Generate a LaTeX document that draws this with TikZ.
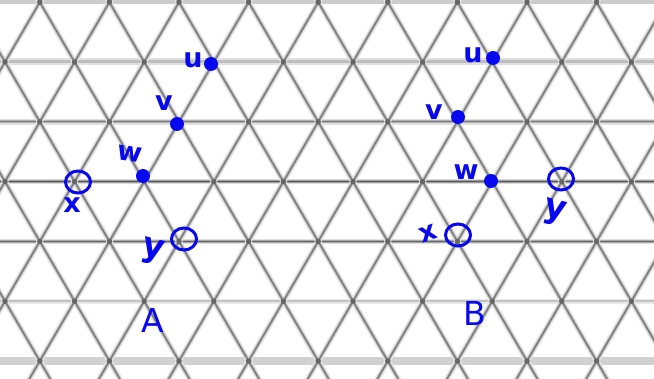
\documentclass[tikz,border=0pt]{standalone}
\usepackage{fontspec}
\setmainfont{DejaVu Sans}
\definecolor{ink}{RGB}{8,8,240}
\tikzset{
  diaghalo/.style={draw=black!9, line width=5.5pt},
  diagmid/.style={draw=black!28, line width=3pt},
  diagcore/.style={draw=black!52, line width=1.3pt},
  vdot/.style={circle, fill=black!60, inner sep=0pt, minimum size=5.5pt},
  pt/.style={circle, fill=ink, inner sep=0pt, minimum size=14pt},
  ring/.style={ellipse, draw=ink, line width=3pt, inner sep=0pt, minimum width=25pt, minimum height=22pt},
  hand/.style={text=ink, inner sep=0pt, font=\bfseries\fontsize{27}{30}\selectfont},
  handy/.style={text=ink, inner sep=0pt, font=\bfseries\fontsize{34}{36}\selectfont},
  big/.style={text=ink, inner sep=0pt, font=\fontsize{33}{36}\selectfont}
}
\usetikzlibrary{shapes.geometric}
\begin{document}
\begin{tikzpicture}[x=1pt,y=-1pt]
\useasboundingbox (0,0) rectangle (654,379);
\fill[white] (0,0) rectangle (654,379);
\begin{scope}
\clip (0,0) rectangle (654,379);
% horizontal rows
\draw[black!20, line width=4pt] (0,2.2) -- (654,2.2);
\draw[black!12, line width=7pt] (0,62) -- (654,62);
\draw[black!26, line width=3pt] (0,62) -- (654,62);
\draw[black!12, line width=5.5pt] (0,121.8) -- (654,121.8);
\draw[black!30, line width=3pt] (0,121.8) -- (654,121.8);
\draw[black!52, line width=1.3pt] (0,121.8) -- (654,121.8);
\draw[black!14, line width=5.5pt] (0,181.6) -- (654,181.6);
\draw[black!38, line width=3pt] (0,181.6) -- (654,181.6);
\draw[black!66, line width=1.4pt] (0,181.6) -- (654,181.6);
\draw[black!12, line width=5.5pt] (0,241.4) -- (654,241.4);
\draw[black!34, line width=3pt] (0,241.4) -- (654,241.4);
\draw[black!60, line width=1.3pt] (0,241.4) -- (654,241.4);
\draw[black!9, line width=5pt] (0,301.2) -- (654,301.2);
\draw[black!24, line width=2pt] (0,301.2) -- (654,301.2);
\draw[black!18, line width=8pt] (0,361) -- (654,361);
% diagonals
\foreach \k in {-6,...,16} {
  \draw[diaghalo] ({39.8+69.6*\k+34.8},-57.6) -- ({39.8+69.6*\k-278.4},480.6);
  \draw[diaghalo] ({39.8+69.6*\k-34.8},-57.6) -- ({39.8+69.6*\k+278.4},480.6);
}
\foreach \k in {-6,...,16} {
  \draw[diagmid] ({39.8+69.6*\k+34.8},-57.6) -- ({39.8+69.6*\k-278.4},480.6);
  \draw[diagmid] ({39.8+69.6*\k-34.8},-57.6) -- ({39.8+69.6*\k+278.4},480.6);
}
\foreach \k in {-6,...,16} {
  \draw[diagcore] ({39.8+69.6*\k+34.8},-57.6) -- ({39.8+69.6*\k-278.4},480.6);
  \draw[diagcore] ({39.8+69.6*\k-34.8},-57.6) -- ({39.8+69.6*\k+278.4},480.6);
}
% vertices
\foreach \j in {1,3,5} {
  \foreach \i in {0,...,9} {
    \node[vdot] at ({5+69.6*\i},{2.2+59.8*\j}) {};
  }
}
\foreach \j in {0,2,4,6} {
  \foreach \i in {-1,...,9} {
    \node[vdot] at ({39.8+69.6*\i},{2.2+59.8*\j}) {};
  }
}
\end{scope}
% ---- configuration A ----
\node[pt] (uA) at (211,64) {};
\node[hand] (luA) at (193,60) {u};
\node[pt] (vA) at (177,124) {};
\node[hand] (lvA) at (164,103) {v};
\node[pt] (wA) at (143,176) {};
\node[hand, rotate=-8] (lwA) at (130,154) {w};
\node[ring] (xA) at (78,182) {};
\node[hand] (lxA) at (72,205) {x};
\node[ring] (yA) at (184,239) {};
\node[handy, rotate=-14] (lyA) at (153,252) {y};
\node[big] (A) at (153,320) {A};
% ---- configuration B ----
\node[pt] (uB) at (493,58) {};
\node[hand] (luB) at (473,55) {u};
\node[pt] (vB) at (458,117) {};
\node[hand] (lvB) at (434,112) {v};
\node[pt] (wB) at (491,181) {};
\node[hand] (lwB) at (466,172) {w};
\node[ring] (xB) at (458,235) {};
\node[hand, rotate=20] (lxB) at (428,234) {x};
\node[ring] (yB) at (561,179) {};
\node[handy, rotate=-14] (lyB) at (555,213) {y};
\node[big] (B) at (475,313) {B};
\end{tikzpicture}
\end{document}
